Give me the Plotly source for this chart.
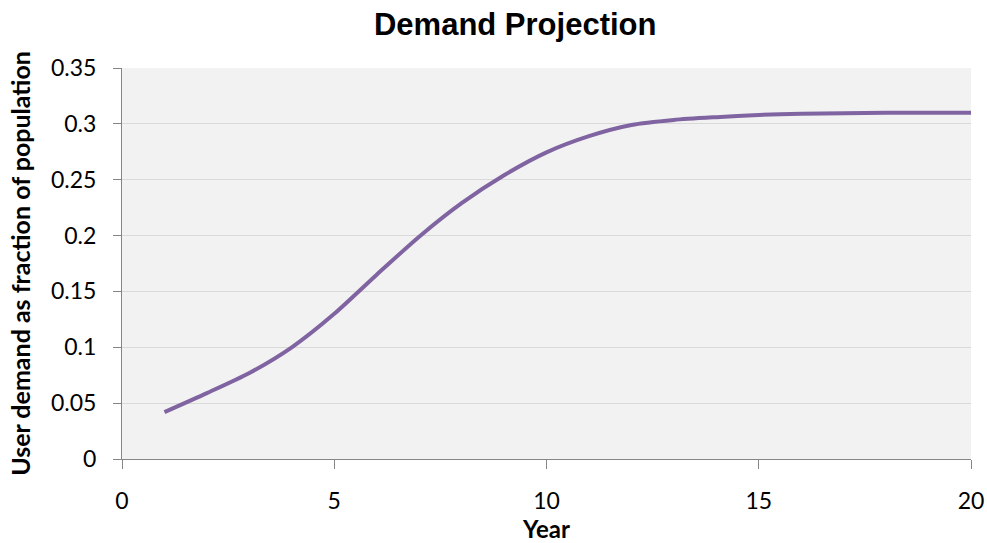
import plotly.graph_objects as go

# Projected user demand (fraction of population) by year
years = list(range(1, 21))
demand = [0.042, 0.059, 0.077, 0.100, 0.130, 0.165, 0.199, 0.229, 0.254, 0.2745,
          0.289, 0.299, 0.3035, 0.306, 0.308, 0.309, 0.3095, 0.310, 0.310, 0.310]

x_ticks = [0, 5, 10, 15, 20]
y_ticks = [0, 0.05, 0.1, 0.15, 0.2, 0.25, 0.3, 0.35]
y_tick_text = ["0", "0.05", "0.1", "0.15", "0.2", "0.25", "0.3", "0.35"]

FONT = "Lato"
TITLE_FONT = "Liberation Sans"

fig = go.Figure()
fig.add_trace(go.Scatter(
    x=years, y=demand, mode="lines",
    line=dict(color="#8064A2", width=4, shape="spline", smoothing=0.7),
    showlegend=False, hoverinfo="x+y",
))

fig.update_layout(
    width=987, height=543,
    margin=dict(l=122, r=16, t=68, b=84),
    paper_bgcolor="white",
    plot_bgcolor="#F2F2F2",
    font=dict(family=FONT, color="black", size=23),
    title=dict(text="<b>Demand Projection</b>", x=0.522, xanchor="center",
               y=0.955, yanchor="middle",
               font=dict(size=31, family=TITLE_FONT)),
)

fig.update_xaxes(
    range=[0, 20], tickvals=x_ticks, ticktext=[str(v) for v in x_ticks],
    showgrid=False, zeroline=False, automargin=False,
    showline=True, linecolor="#868686", linewidth=1,
    ticks="outside", ticklen=9, tickcolor="#868686",
    ticklabelstandoff=12,
    tickfont=dict(size=23),
    title=dict(text="<b>Year</b>", font=dict(size=24), standoff=2),
)
fig.update_yaxes(
    range=[0, 0.35], tickvals=y_ticks, ticktext=y_tick_text,
    showgrid=True, gridcolor="#D9D9D9", gridwidth=1, zeroline=False,
    automargin=False,
    showline=True, linecolor="#868686", linewidth=1,
    ticks="outside", ticklen=8, tickcolor="#868686",
    ticklabelstandoff=12,
    tickfont=dict(size=23),
    title=dict(text="<b>User demand as fraction of population</b>",
               font=dict(size=25), standoff=13),
)

fig.write_html("out.html")
